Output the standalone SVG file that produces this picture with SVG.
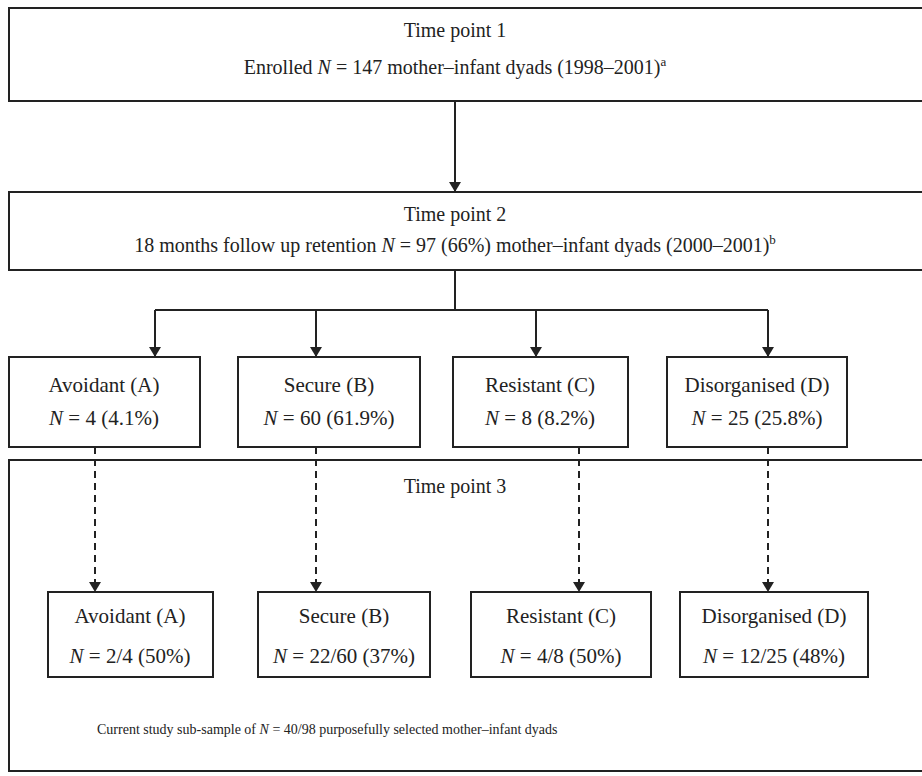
<svg xmlns="http://www.w3.org/2000/svg" width="922" height="776" viewBox="0 0 922 776">
<style>
.box{fill:#fff;stroke:#222;stroke-width:2}
.t{font-family:"Liberation Serif","Times New Roman",serif;font-size:20px;fill:#222;text-anchor:middle}
.c{font-family:"Liberation Serif","Times New Roman",serif;font-size:21px;fill:#222;text-anchor:middle}
.s{font-family:"Liberation Serif","Times New Roman",serif;font-size:14px;fill:#222}
.i{font-style:italic}
.sup{font-size:13px}
.ln{stroke:#222;stroke-width:2;fill:none}
.dl{stroke:#222;stroke-width:2;fill:none;stroke-dasharray:7,5}
</style>
<defs>
<marker id="ah" viewBox="0 0 10 12" refX="10" refY="6" markerWidth="10" markerHeight="12" markerUnits="userSpaceOnUse" orient="auto">
<path d="M0,0 L10,6 L0,12 Z" fill="#222"/>
</marker>
</defs>
<rect x="0" y="0" width="922" height="776" fill="#fff"/>
<g id="tp1">
<rect class="box" x="9" y="8" width="922" height="93"/>
<text class="t" x="455" y="37">Time point 1</text>
<text class="t" x="455" y="74">Enrolled <tspan class="i">N</tspan> = 147 mother–infant dyads (1998–2001)<tspan class="sup" dy="-8">a</tspan></text>
</g>
<g id="tp2">
<rect class="box" x="9" y="192" width="922" height="78"/>
<text class="t" x="455" y="221">Time point 2</text>
<text class="t" x="455" y="252">18 months follow up retention <tspan class="i">N</tspan> = 97 (66%) mother–infant dyads (2000–2001)<tspan class="sup" dy="-8">b</tspan></text>
</g>
<g id="tp3">
<rect class="box" x="9" y="460" width="922" height="311"/>
<text class="t" x="455" y="493">Time point 3</text>
<text class="s" x="97" y="734">Current study sub-sample of <tspan class="i">N</tspan> = 40/98 purposefully selected mother–infant dyads</text>
</g>
<g id="a1">
<rect class="box" x="9" y="357" width="191" height="90"/>
<text class="c" x="104" y="392">Avoidant (A)</text>
<text class="c" x="104" y="425"><tspan class="i">N</tspan> = 4 (4.1%)</text>
</g>
<g id="b1">
<rect class="box" x="238" y="357" width="182" height="90"/>
<text class="c" x="329" y="392">Secure (B)</text>
<text class="c" x="329" y="425"><tspan class="i">N</tspan> = 60 (61.9%)</text>
</g>
<g id="c1">
<rect class="box" x="453" y="357" width="175" height="90"/>
<text class="c" x="540" y="392">Resistant (C)</text>
<text class="c" x="540" y="425"><tspan class="i">N</tspan> = 8 (8.2%)</text>
</g>
<g id="d1">
<rect class="box" x="667" y="357" width="180" height="90"/>
<text class="c" x="757" y="392">Disorganised (D)</text>
<text class="c" x="757" y="425"><tspan class="i">N</tspan> = 25 (25.8%)</text>
</g>
<g id="a2">
<rect class="box" x="48" y="592" width="165" height="85"/>
<text class="c" x="130" y="623">Avoidant (A)</text>
<text class="c" x="130" y="663"><tspan class="i">N</tspan> = 2/4 (50%)</text>
</g>
<g id="b2">
<rect class="box" x="258" y="592" width="172" height="85"/>
<text class="c" x="344" y="623">Secure (B)</text>
<text class="c" x="344" y="663"><tspan class="i">N</tspan> = 22/60 (37%)</text>
</g>
<g id="c2">
<rect class="box" x="471" y="592" width="180" height="85"/>
<text class="c" x="561" y="623">Resistant (C)</text>
<text class="c" x="561" y="663"><tspan class="i">N</tspan> = 4/8 (50%)</text>
</g>
<g id="d2">
<rect class="box" x="680" y="592" width="188" height="85"/>
<text class="c" x="774" y="623">Disorganised (D)</text>
<text class="c" x="774" y="663"><tspan class="i">N</tspan> = 12/25 (48%)</text>
</g>
<g id="connectors">
<line class="ln" x1="455" y1="101" x2="455" y2="192" marker-end="url(#ah)"/>
<polyline class="ln" points="455,270 455,310"/>
<polyline class="ln" points="155,310 768,310"/>
<line class="ln" x1="155" y1="310" x2="155" y2="357" marker-end="url(#ah)"/>
<line class="ln" x1="316" y1="310" x2="316" y2="357" marker-end="url(#ah)"/>
<line class="ln" x1="536" y1="310" x2="536" y2="357" marker-end="url(#ah)"/>
<line class="ln" x1="768" y1="310" x2="768" y2="357" marker-end="url(#ah)"/>
<line class="dl" x1="95" y1="447" x2="95" y2="592" marker-end="url(#ah)"/>
<line class="dl" x1="316" y1="447" x2="316" y2="592" marker-end="url(#ah)"/>
<line class="dl" x1="579" y1="447" x2="579" y2="592" marker-end="url(#ah)"/>
<line class="dl" x1="768" y1="447" x2="768" y2="592" marker-end="url(#ah)"/>
</g>
</svg>
